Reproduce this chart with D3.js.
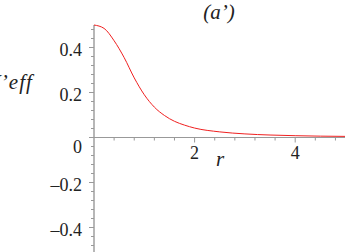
<!DOCTYPE html>
<html>
<head>
<meta charset="utf-8">
<script src="https://cdn.jsdelivr.net/npm/d3@7"></script>
<style>
  body { margin: 0; background: #fff; }
  text { font-family: "Liberation Serif", "DejaVu Serif", serif; fill: #222; }
</style>
</head>
<body>
<script>
// values
var rValues = [0, 0.2, 0.4, 0.6, 0.8, 1.0, 1.2, 1.4, 1.6, 1.8, 2.0, 2.5, 3.0, 3.5, 4.0, 4.5, 5.0];
var vEff = [0.5, 0.485, 0.43, 0.355, 0.265, 0.19, 0.135, 0.098, 0.072, 0.055, 0.042, 0.025, 0.016, 0.011, 0.008, 0.006, 0.005];

// tick labels
var xMajor = [2, 4];
var yMajor = [0.4, 0.2, 0, -0.2, -0.4];
var xMinor = d3.range(-0.4, 5.01, 0.4);
var yMinor = d3.range(-0.48, 0.49, 0.04);

var width = 345, height = 252;

var svg = d3.select("body").append("svg")
  .attr("width", width)
  .attr("height", height);

var x = d3.scaleLinear().domain([0, 5]).range([94, 345.5]);
var y = d3.scaleLinear().domain([-0.5, 0.5]).range([250, 25]);

var axisColor = "#999";

// y axis line
svg.append("line")
  .attr("x1", x(0)).attr("x2", x(0))
  .attr("y1", y(0.5)).attr("y2", height)
  .attr("stroke", axisColor).attr("stroke-width", 1.4);

// x axis line
svg.append("line")
  .attr("x1", x(0)).attr("x2", width)
  .attr("y1", y(0)).attr("y2", y(0))
  .attr("stroke", axisColor).attr("stroke-width", 1.2);

// y ticks (minor + major)
svg.selectAll(".ytick").data(yMinor).enter().append("line")
  .attr("x1", function (d) { return x(0) - (Math.abs(d * 5 - Math.round(d * 5)) < 1e-6 ? 5 : 3); })
  .attr("x2", x(0))
  .attr("y1", function (d) { return y(d); })
  .attr("y2", function (d) { return y(d); })
  .attr("stroke", axisColor).attr("stroke-width", 1);

// x ticks
svg.selectAll(".xtick").data(xMinor.filter(function (d) { return d > 0.01; })).enter().append("line")
  .attr("x1", function (d) { return x(d); })
  .attr("x2", function (d) { return x(d); })
  .attr("y1", y(0))
  .attr("y2", function (d) { return y(0) + (Math.abs(d / 2 - Math.round(d / 2)) < 1e-6 ? 5 : 3); })
  .attr("stroke", axisColor).attr("stroke-width", 1);

// y tick labels
svg.selectAll(".ylab").data(yMajor).enter().append("text")
  .attr("x", 82)
  .attr("y", function (d) { return y(d) + (d === 0 ? 15.5 : 8.5); })
  .attr("text-anchor", "end")
  .style("font-size", "18px")
  .text(function (d) { return d < 0 ? "\u2013" + Math.abs(d) : d; });

// x tick labels
svg.selectAll(".xlab").data(xMajor).enter().append("text")
  .attr("x", function (d) { return x(d); })
  .attr("y", 159)
  .attr("text-anchor", "middle")
  .style("font-size", "18px")
  .text(function (d) { return d; });

// axis titles
svg.append("text")
  .attr("x", 220).attr("y", 166)
  .attr("text-anchor", "middle")
  .style("font-size", "21px").style("font-style", "italic")
  .text("r");

// y title runs off the left edge, as in the original
svg.append("text")
  .attr("x", -13).attr("y", 89)
  .attr("text-anchor", "start")
  .style("font-size", "21px").style("font-style", "italic")
  .style("letter-spacing", "1px")
  .text("V\u2019eff");

svg.append("text")
  .attr("x", 219).attr("y", 19)
  .attr("text-anchor", "middle")
  .style("font-size", "21px").style("font-style", "italic")
  .text("(a\u2019)");

// the curve
var line = d3.line()
  .x(function (d) { return x(d[0]); })
  .y(function (d) { return y(d[1]); })
  .curve(d3.curveMonotoneX);

svg.append("path")
  .datum(rValues.map(function (r, i) { return [r, vEff[i]]; }))
  .attr("fill", "none")
  .attr("stroke", "#f02020")
  .attr("stroke-width", 1)
  .attr("d", line);
</script>
</body>
</html>
